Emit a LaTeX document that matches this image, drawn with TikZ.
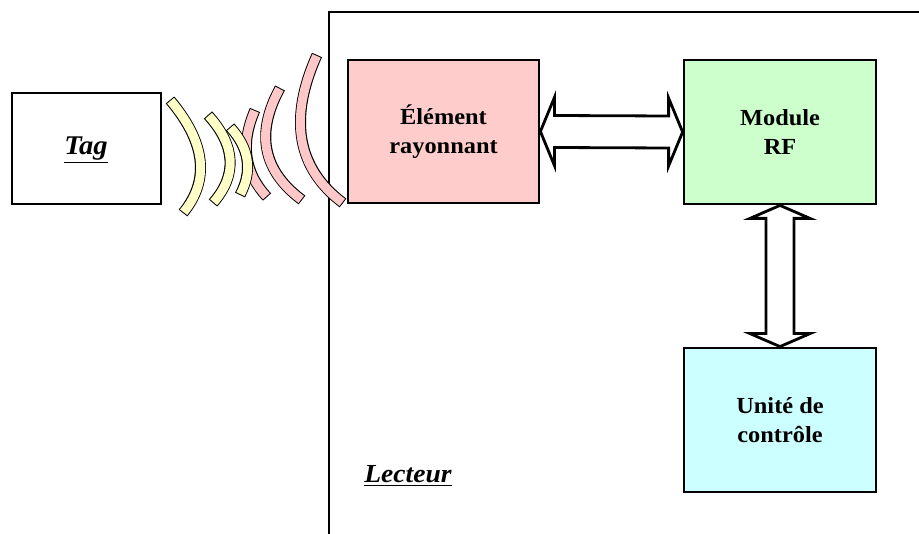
\documentclass[tikz,border=0pt]{standalone}
\usepackage{fontspec}
\setmainfont[FakeStretch=1.06]{Liberation Serif}
\usetikzlibrary{calc}
\definecolor{boxpink}{HTML}{FFCCCC}
\definecolor{boxgreen}{HTML}{CCFFCC}
\definecolor{boxcyan}{HTML}{CCFFFF}
\definecolor{arcyellow}{HTML}{FFFFC8}
\definecolor{arcpink}{HTML}{FFC8C8}
\tikzset{
  blockbox/.style={draw=black, line width=2.8pt, rectangle, inner sep=0pt,
    minimum width=191pt, minimum height=143pt, align=center,
    font=\fontsize{23}{29}\selectfont\bfseries},
  dblarrow/.style={draw=black, fill=white, line width=2.8pt, line join=miter},
  waveout/.style={line width=11pt, black, line cap=butt},
  wavein/.style={line width=9pt, line cap=butt, shorten <=1pt, shorten >=1pt},
  frameline/.style={draw=black, line width=2.8pt},
  bigitalic/.style={font=\fontsize{26}{30}\selectfont\bfseries\itshape, inner sep=0pt}
}
\begin{document}
\begin{tikzpicture}[x=1pt,y=-1pt]
\useasboundingbox (0,0) rectangle (919,534);
% reader frame
\coordinate (fb) at (329,540);
\coordinate (ftl) at (329,12);
\coordinate (fr) at (925,12);
\draw[frameline, line join=miter] (fb) -- (ftl) -- (fr);
% tag
\node[draw=black, line width=2.8pt, rectangle, inner sep=0pt, minimum width=149pt, minimum height=111pt] (tag) at (86.5,148.5) {};
\node[bigitalic, font=\fontsize{27}{30}\selectfont\itshape\bfseries] (taglbl) at (86,150) {\underline{Tag}};
% blocks
\node[blockbox, fill=boxpink] (er) at (443.5,131.5) {Élément\\rayonnant};
\node[blockbox, fill=boxgreen, minimum width=192pt, minimum height=144pt] (rf) at (780,132) {Module\\RF};
\node[blockbox, fill=boxcyan, minimum width=192pt, minimum height=144pt] (uc) at (780,420) {Unité de\\contrôle};
% lecteur label
\node[bigitalic, anchor=base] (lect) at (408,483) {\underline{Lecteur}};
% waves
\coordinate (y1a) at (170,100); \coordinate (y1c) at (223.5,163.5); \coordinate (y1b) at (183,213);
\coordinate (y2a) at (208,115); \coordinate (y2c) at (249.5,161); \coordinate (y2b) at (213,203);
\coordinate (y3a) at (230,127); \coordinate (y3c) at (259,159); \coordinate (y3b) at (240,195);
\coordinate (p1a) at (255,110); \coordinate (p1c) at (233,160.5); \coordinate (p1b) at (267,197);
\coordinate (p2a) at (280,88); \coordinate (p2c) at (243,156); \coordinate (p2b) at (302,200);
\coordinate (p3a) at (317,55); \coordinate (p3c) at (274,151); \coordinate (p3b) at (343,203);
\foreach \w in {p3,p2,p1}{
  \draw[waveout] (\w a) .. controls ($(\w a)!2/3!(\w c)$) and ($(\w b)!2/3!(\w c)$) .. (\w b);
  \draw[wavein, arcpink] (\w a) .. controls ($(\w a)!2/3!(\w c)$) and ($(\w b)!2/3!(\w c)$) .. (\w b);
}
\foreach \w in {y3,y2,y1}{
  \draw[waveout] (\w a) .. controls ($(\w a)!2/3!(\w c)$) and ($(\w b)!2/3!(\w c)$) .. (\w b);
  \draw[wavein, arcyellow] (\w a) .. controls ($(\w a)!2/3!(\w c)$) and ($(\w b)!2/3!(\w c)$) .. (\w b);
}
% horizontal double arrow
\draw[dblarrow] (er.east) -- ($(er.east)+(14,-34)$) -- ($(er.east)+(14,-16)$)
  -- ($(rf.west)+(-14,-16)$) -- ($(rf.west)+(-14,-34)$) -- (rf.west)
  -- ($(rf.west)+(-14,34)$) -- ($(rf.west)+(-14,16)$)
  -- ($(er.east)+(14,16)$) -- ($(er.east)+(14,34)$) -- cycle;
% vertical double arrow
\draw[dblarrow] (rf.south) -- ($(rf.south)+(30,13)$) -- ($(rf.south)+(14,13)$)
  -- ($(uc.north)+(14,-13)$) -- ($(uc.north)+(30,-13)$) -- (uc.north)
  -- ($(uc.north)+(-30,-13)$) -- ($(uc.north)+(-14,-13)$)
  -- ($(rf.south)+(-14,13)$) -- ($(rf.south)+(-30,13)$) -- cycle;
\end{tikzpicture}
\end{document}
